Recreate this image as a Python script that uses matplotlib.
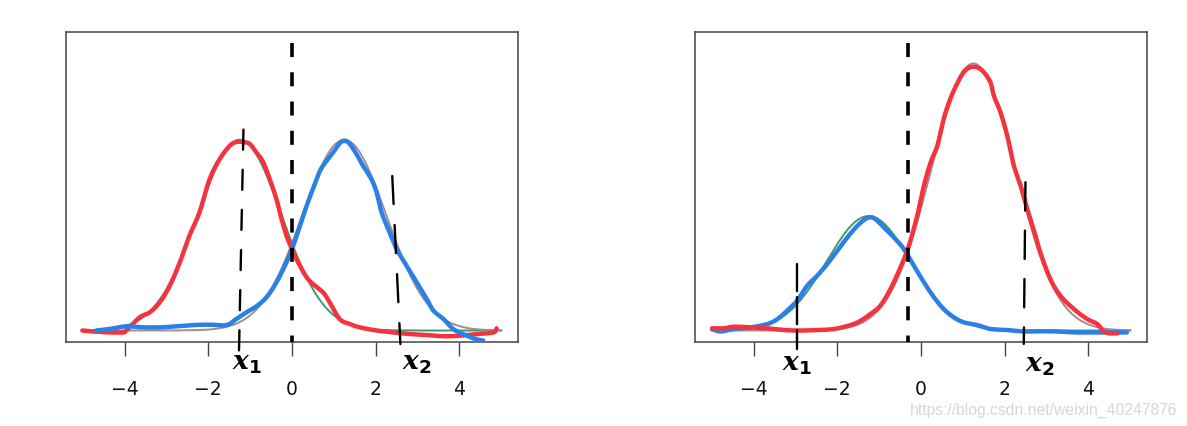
import matplotlib
matplotlib.use("Agg")
import numpy as np
import matplotlib.pyplot as plt

plt.rcParams['font.family'] = ['DejaVu Sans']
plt.rcParams['mathtext.fontset'] = 'custom'
plt.rcParams['mathtext.it'] = 'DejaVu Serif:italic:bold'
plt.rcParams['mathtext.rm'] = 'DejaVu Sans:bold'

# ---------------- data ----------------
tick_values = [-4, -2, 0, 2, 4]
tick_labels = ['\u22124', '\u22122', '0', '2', '4']

grid_x = [-5.0, -4.75, -4.5, -4.25, -4.0, -3.75, -3.5, -3.25, -3.0, -2.75,
          -2.5, -2.25, -2.0, -1.75, -1.5, -1.25, -1.0, -0.75, -0.5, -0.25,
          0.0, 0.25, 0.5, 0.75, 1.0, 1.25, 1.5, 1.75, 2.0, 2.25,
          2.5, 2.75, 3.0, 3.25, 3.5, 3.75, 4.0, 4.25, 4.5, 4.75, 5.0]

# thin reference curves (left panel, equal weights)
left_green = [.0002, .0005, .0010, .0022, .0046, .0088, .0159, .0270, .0432, .0648,
              .0913, .1210, .1506, .1760, .1933, .1995, .1933, .1760, .1506, .1210,
              .0913, .0648, .0432, .0270, .0159, .0088, .0046, .0022, .0010, .0005,
              .0002, .0001, 0, 0, 0, 0, 0, 0, 0, 0, 0]
left_gray = [0, 0, 0, 0, 0, 0, 0, 0, 0, .0001,
             .0002, .0005, .0010, .0022, .0046, .0088, .0159, .0270, .0432, .0648,
             .0913, .1210, .1506, .1760, .1933, .1995, .1933, .1760, .1506, .1210,
             .0913, .0648, .0432, .0270, .0159, .0088, .0046, .0022, .0010, .0005, .0002]
# thin reference curves (right panel, unequal weights)
right_green = [.0001, .0003, .0006, .0013, .0027, .0053, .0095, .0162, .0259, .0389,
               .0548, .0726, .0903, .1056, .1160, .1197, .1160, .1056, .0903, .0726,
               .0548, .0389, .0259, .0162, .0095, .0053, .0027, .0013, .0006, .0003,
               .0001, 0, 0, 0, 0, 0, 0, 0, 0, 0, 0]
right_gray = [0, 0, 0, 0, 0, 0, 0, 0, 0, .0001,
              .0003, .0006, .0014, .0031, .0064, .0123, .0222, .0378, .0604, .0907,
              .1278, .1694, .2108, .2465, .2707, .2792, .2707, .2465, .2108, .1694,
              .1278, .0907, .0604, .0378, .0222, .0123, .0064, .0031, .0014, .0006, .0003]

# hand-drawn curves, left panel
left_red_x = [-5.01, -4.76, -4.36, -4.04, -3.96, -3.64, -3.40, -3.16, -2.92, -2.68,
              -2.45, -2.21, -1.97, -1.73, -1.49, -1.33, -1.17, -1.01, -0.85, -0.69,
              -0.53, -0.37, -0.25, -0.13, 0.03, 0.19, 0.35, 0.50, 0.74, 0.90,
              1.14, 1.38, 1.62, 2.02, 2.42, 2.82, 3.22, 3.62, 4.02, 4.41, 4.81, 4.89]
left_red_y = [0.000, -0.001, -0.002, -0.002, 0.000, 0.0138, 0.019, 0.0295, 0.0468, 0.0713,
              0.0991, 0.1235, 0.158, 0.179, 0.193, 0.197, 0.197, 0.195, 0.186, 0.176,
              0.158, 0.137, 0.1165, 0.099, 0.0817, 0.0677, 0.0556, 0.0486, 0.040, 0.0295,
              0.012, 0.0068, 0.0033, 0.000, -0.002, -0.0037, -0.0047, -0.006, -0.0054, -0.0037, -0.002, 0.0023]
left_blue_x = [-4.68, -4.36, -3.96, -3.56, -3.16, -2.76, -2.37, -1.97, -1.57, -1.33,
               -1.09, -0.85, -0.61, -0.37, -0.13, 0.03, 0.19, 0.35, 0.50, 0.67,
               0.83, 0.98, 1.14, 1.26, 1.38, 1.54, 1.70, 1.90, 2.02, 2.14,
               2.30, 2.50, 2.74, 2.98, 3.22, 3.38, 3.62, 3.85, 4.09, 4.33, 4.57]
left_blue_y = [0.000, 0.0016, 0.0044, 0.0033, 0.0033, 0.0044, 0.0057, 0.0061, 0.0057, 0.012,
               0.019, 0.0253, 0.0347, 0.0504, 0.0713, 0.0886, 0.1095, 0.1304, 0.148, 0.167,
               0.1775, 0.186, 0.1956, 0.1984, 0.195, 0.1845, 0.172, 0.158, 0.1445, 0.1235,
               0.106, 0.0852, 0.0677, 0.0504, 0.0329, 0.0207, 0.012, 0.0016, -0.0037, -0.0082, -0.0106]

# hand-drawn curves, right panel
right_blue_x = [-4.99, -4.79, -4.47, -4.07, -3.67, -3.43, -3.20, -2.96, -2.72, -2.48,
                -2.24, -2.00, -1.76, -1.52, -1.33, -1.21, -1.09, -0.89, -0.65, -0.41,
                -0.17, 0.07, 0.31, 0.54, 0.78, 1.02, 1.34, 1.66, 2.06, 2.46,
                2.85, 3.25, 3.65, 4.05, 4.45, 4.92]
right_blue_y = [0.0016, -0.001, 0.0016, 0.0033, 0.0068, 0.012, 0.0207, 0.0312, 0.0468, 0.0573,
                0.0695, 0.0834, 0.0974, 0.1095, 0.1165, 0.1183, 0.1165, 0.1079, 0.0974, 0.0852,
                0.0677, 0.0504, 0.0347, 0.0225, 0.0138, 0.0086, 0.0057, 0.0016, 0.0005, -0.001,
                -0.0008, -0.001, -0.002, -0.002, -0.002, -0.002]
right_red_x = [-4.99, -4.71, -4.47, -4.07, -3.67, -3.28, -2.88, -2.48, -2.08, -1.68,
               -1.44, -1.21, -0.97, -0.73, -0.49, -0.29, -0.09, 0.07, 0.23, 0.39,
               0.54, 0.70, 0.86, 1.02, 1.18, 1.34, 1.50, 1.66, 1.74, 1.90,
               2.06, 2.22, 2.38, 2.54, 2.69, 2.85, 3.09, 3.33, 3.65, 3.97, 4.21, 4.41, 4.69]
right_red_y = [0.0023, 0.0023, 0.004, 0.0033, 0.0023, 0.0005, 0.000, 0.0005, 0.0016, 0.0057,
               0.0103, 0.0172, 0.026, 0.0434, 0.066, 0.0886, 0.120, 0.1514, 0.1758, 0.193,
               0.221, 0.242, 0.2577, 0.270, 0.2751, 0.2751, 0.270, 0.2594, 0.2454, 0.228,
               0.2036, 0.172, 0.1514, 0.127, 0.106, 0.0817, 0.0538, 0.0364, 0.0225, 0.012, 0.0068, -0.002, -0.003]

# decision boundary (thick dashed) positions
left_boundary = 0.0
right_boundary = -0.315
# hand-drawn marker lines: (x_top, y_top, x_bottom, y_bottom)
left_x1_mark = (-1.16, 0.2100, -1.27, -0.0298)
left_x2_mark = (2.395, 0.1615, 2.59, -0.0141)
right_x1_mark = (-2.966, 0.0695, -2.966, -0.0193)
right_x2_mark = (2.496, 0.1550, 2.456, -0.0140)

# ---------------- drawing ----------------
W, H = 1187, 427
fig = plt.figure(figsize=(W / 100, H / 100), dpi=100)
fig.patch.set_facecolor('white')

RED = '#f4333f'
BLUE = '#2a80e4'
GREEN = '#3a9a6e'
GRAY = '#a08a94'
XLIM = (-5.4, 5.4)
YLIM = (-0.012, 0.312)


def smooth(xs, ys, n=8):
    """Catmull-Rom interpolation through the read points (rendering only)."""
    p = np.column_stack([xs, ys]).astype(float)
    p = np.vstack([p[0], p, p[-1]])
    out = []
    t = np.linspace(0, 1, n, endpoint=False)[:, None]
    for i in range(1, len(p) - 2):
        p0, p1, p2, p3 = p[i - 1], p[i], p[i + 1], p[i + 2]
        seg = 0.5 * ((2 * p1) + (-p0 + p2) * t + (2 * p0 - 5 * p1 + 4 * p2 - p3) * t ** 2
                     + (-p0 + 3 * p1 - 3 * p2 + p3) * t ** 3)
        out.append(seg)
    out.append(p[-2][None, :])
    out = np.vstack(out)
    return out[:, 0], out[:, 1]


def setup(ax):
    ax.set_xlim(*XLIM)
    ax.set_ylim(*YLIM)
    ax.set_yticks([])
    ax.set_xticks(tick_values)
    ax.set_xticklabels(tick_labels)
    ax.tick_params(axis='x', length=10, width=1.0, color='#444444', pad=17,
                   labelsize=13.5, labelcolor='#111111')
    for s in ax.spines.values():
        s.set_color('#444444')
        s.set_linewidth(1.1)


def boundary(ax, x):
    ytop = YLIM[0] + (YLIM[1] - YLIM[0]) * 0.965
    ax.plot([x, x], [ytop, YLIM[0]], color='black', lw=2.6,
            linestyle=(0, (3.9, 4.2)), dash_capstyle='butt', zorder=6)


def mark(ax, m, dashes):
    ax.plot([m[0], m[2]], [m[1], m[3]], color='black', lw=1.7,
            linestyle=(0, dashes), dash_capstyle='round', clip_on=False, zorder=7)


def hand(ax, xs, ys, color, z):
    sx, sy = smooth(xs, ys)
    ax.plot(sx, sy, color=color, lw=3.2, solid_capstyle='round',
            solid_joinstyle='round', zorder=z)


def thin(ax, ys, color):
    sx, sy = smooth(grid_x, ys, 4)
    ax.plot(sx, sy, color=color, lw=1.4, zorder=2)


axL = fig.add_axes([66 / W, 1 - 343 / H, 452 / W, 310 / H])
setup(axL)
thin(axL, left_green, GREEN)
thin(axL, left_gray, GRAY)
hand(axL, left_red_x, left_red_y, RED, 3)
hand(axL, left_blue_x, left_blue_y, BLUE, 4)
boundary(axL, left_boundary)
mark(axL, left_x1_mark, (8.5, 8.5))
mark(axL, left_x2_mark, (11.9, 8.9))

axR = fig.add_axes([695 / W, 1 - 343 / H, 452 / W, 310 / H])
setup(axR)
thin(axR, right_green, GREEN)
thin(axR, right_gray, GRAY)
hand(axR, right_blue_x, right_blue_y, BLUE, 3)
hand(axR, right_red_x, right_red_y, RED, 4)
boundary(axR, right_boundary)
mark(axR, right_x1_mark, (11.5, 2.5))
mark(axR, right_x2_mark, (12, 8.5))

# handwritten labels
labels = [(r'$x_1$', 247, 363), (r'$x_2$', 417, 363), (r'$x_1$', 797, 364), (r'$x_2$', 1040, 365)]
for txt, px, py in labels:
    fig.text(px / W, 1 - py / H, txt, ha='center', va='center', fontsize=19, color='black')

fig.text(1177 / W, 1 - 410 / H, 'https://blog.csdn.net/weixin_40247876', ha='right', va='center',
         fontsize=11.3, color='#d6d6d6', family='Liberation Sans')

fig.savefig('out.png', dpi=100, facecolor='white')
